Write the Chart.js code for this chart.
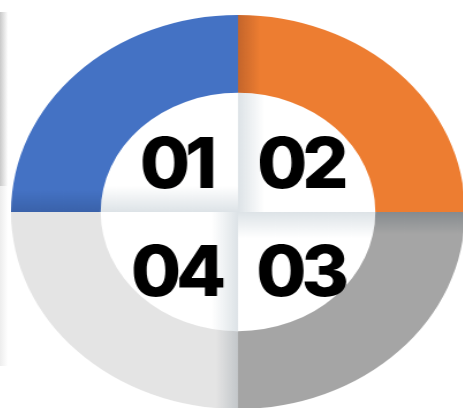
<!DOCTYPE html>
<html>
<head>
<meta charset="utf-8">
<script src="https://cdn.jsdelivr.net/npm/chart.js@4/dist/chart.umd.min.js"></script>
<style>
  html, body { margin: 0; padding: 0; background: #fff; overflow: hidden; }
  body { width: 463px; height: 408px; position: relative; }
  #wrap {
    position: absolute; left: 41px; top: 15px; width: 394px; height: 394px;
    transform-origin: 50% 50%;
  }
  .edge { position: absolute; left: 0; width: 8px; }
  .edge.top { top: 12px; height: 174px; background: linear-gradient(to right, #c9c9c9, #fff); }
  .edge.low { top: 186px; height: 180px; background: linear-gradient(to right, #ededed, #fff); }
</style>
</head>
<body>
<div class="edge top"></div>
<div class="edge low"></div>
<div id="wrap"><canvas id="chart"></canvas></div>
<script>
// chart data
var labels = ["01", "02", "03", "04"];
var values = [25, 25, 25, 25];
var colors = ["#4472C4", "#ED7D31", "#A5A5A5", "#E4E4E4"];
var edgeColors = ["#3A62AA", "#C4652B", "#868B8F", "#C3C7CA"];

// the ring is an ellipse, so the round doughnut is stretched sideways
var STRETCH = 1.152;
document.getElementById("wrap").style.transform = "scaleX(" + STRETCH + ")";

// gradient that is darker along the edge where quarter i starts
function edgeGradient(chart, i, dark, light, d) {
  var a = chart.chartArea;
  var cx = (a.left + a.right) / 2;
  var cy = (a.top + a.bottom) / 2;
  var g;
  if (i === 0) g = chart.ctx.createLinearGradient(0, cy, 0, cy - d);
  else if (i === 1) g = chart.ctx.createLinearGradient(cx, 0, cx + d / STRETCH, 0);
  else if (i === 2) g = chart.ctx.createLinearGradient(0, cy, 0, cy + d);
  else g = chart.ctx.createLinearGradient(cx, 0, cx - d / STRETCH, 0);
  g.addColorStop(0, dark);
  g.addColorStop(1, light);
  return g;
}

function shade(c) {
  if (!c.chart.chartArea) return colors[c.dataIndex];
  return edgeGradient(c.chart, c.dataIndex, edgeColors[c.dataIndex], colors[c.dataIndex], 22);
}

// soft shading inside the hole, same pattern as the ring
var holeShade = {
  id: "holeShade",
  beforeDatasetsDraw: function (chart) {
    var ctx = chart.ctx;
    var meta = chart.getDatasetMeta(0);
    ctx.save();
    meta.data.forEach(function (arc, i) {
      var p = arc.getProps(["x", "y", "startAngle", "endAngle", "innerRadius"], true);
      ctx.beginPath();
      ctx.moveTo(p.x, p.y);
      ctx.arc(p.x, p.y, p.innerRadius, p.startAngle, p.endAngle);
      ctx.closePath();
      ctx.fillStyle = edgeGradient(chart, i, "#dde3e7", "#ffffff", 26);
      ctx.fill();
    });
    ctx.restore();
  },
};

var numberLabels = {
  id: "numberLabels",
  afterDatasetsDraw: function (chart) {
    var ctx = chart.ctx;
    var meta = chart.getDatasetMeta(0);
    ctx.save();
    ctx.fillStyle = "#000";
    ctx.font = "800 70px Inter";
    ctx.textAlign = "center";
    ctx.textBaseline = "middle";
    meta.data.forEach(function (arc, i) {
      var p = arc.getProps(["x", "y", "startAngle", "endAngle", "innerRadius"], true);
      var mid = (p.startAngle + p.endAngle) / 2;
      var r = p.innerRadius * 0.64;
      var x = p.x + Math.cos(mid) * r;
      var y = p.y + Math.sin(mid) * r + p.innerRadius * 0.05;
      ctx.save();
      ctx.translate(x, y);
      ctx.scale(1.04 / STRETCH, 1);
      ctx.letterSpacing = "-5px";
      ctx.fillText(labels[i], 0, 3);
      ctx.restore();
    });
    ctx.restore();
  },
};

new Chart(document.getElementById("chart"), {
  type: "doughnut",
  data: {
    labels: labels,
    datasets: [
      {
        data: values,
        backgroundColor: shade,
        borderWidth: 0,
        hoverOffset: 0,
        offset: 0,
      },
    ],
  },
  options: {
    responsive: true,
    maintainAspectRatio: false,
    animation: false,
    events: [],
    rotation: -90,
    cutout: "60.5%",
    layout: { padding: 0 },
    plugins: {
      legend: { display: false },
      tooltip: { enabled: false },
    },
  },
  plugins: [holeShade, numberLabels],
});
</script>
</body>
</html>
